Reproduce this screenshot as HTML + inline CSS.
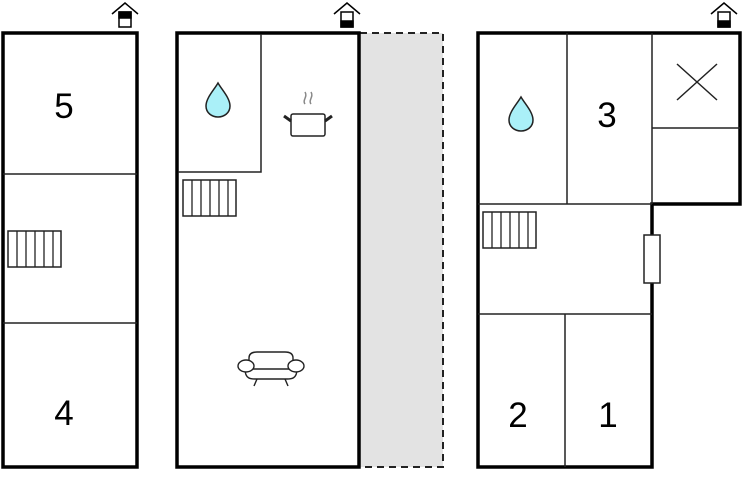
<!DOCTYPE html>
<html><head><style>body{margin:0;background:#fff}svg{display:block}</style></head><body>
<svg width="744" height="500" xmlns="http://www.w3.org/2000/svg" font-family="Liberation Sans, sans-serif">
<defs>
<g id="st"><rect x="0" y="0" width="53" height="36" fill="#fff" stroke="#222" stroke-width="1.5"/>
<path d="M9 0V36M18 0V36M27 0V36M36 0V36M45 0V36" stroke="#222" stroke-width="1.3"/></g>
<g id="drop"><path d="M0 -19 C4 -12 12 -4 12 4 C12 11 6 15 0 15 C-6 15 -12 11 -12 4 C-12 -4 -4 -12 0 -19Z" fill="#aaf0f8" stroke="#222" stroke-width="1.5"/></g>
</defs>
<rect x="360" y="33" width="83" height="434" fill="#e3e3e3"/>
<path d="M360 33H443V467H360" fill="none" stroke="#222" stroke-width="2" stroke-dasharray="7,5"/>
<rect x="3" y="33" width="134" height="434" fill="#fff" stroke="#000" stroke-width="3.5"/>
<path d="M3 174H137M3 323H137" stroke="#222" stroke-width="1.5"/>
<use href="#st" x="8" y="231"/>
<text x="64" y="118" font-size="35" text-anchor="middle">5</text>
<text x="64" y="425" font-size="35" text-anchor="middle">4</text>
<rect x="177" y="33" width="182" height="434" fill="#fff" stroke="#000" stroke-width="3.5"/>
<path d="M178 172H261V34" fill="none" stroke="#222" stroke-width="1.5"/>
<use href="#st" x="183" y="180"/>
<use href="#drop" x="218" y="102"/>
<g stroke="#222" stroke-width="1.5" fill="#fff">
<rect x="291" y="114" width="34" height="22" rx="2"/>
<path d="M291 121L284 116M325 121L332 116" stroke-width="3"/>
<path d="M305 104c-3-4 3-7 0-12M311 104c-3-4 3-7 0-12" stroke="#888" fill="none"/>
</g>
<g stroke="#222" stroke-width="1.4" fill="#fff">
<path d="M249 367v-9c0-5 4-6 8-6h28c4 0 8 1 8 6v9"/>
<path d="M245 369h52c0 10-6 10-10 10h-32c-4 0-10 0-10-10z"/>
<ellipse cx="246" cy="366" rx="8" ry="6"/><ellipse cx="296" cy="366" rx="8" ry="6"/>
<path d="M257 379l-3 7M285 379l3 7"/>
</g>
<path d="M478 33H740V204H652V467H478Z" fill="#fff" stroke="#000" stroke-width="3.5"/>
<path d="M567 33V204M652 33V204M652 128H740M478 204H652M478 314H652M565 314V467" stroke="#222" stroke-width="1.5"/>
<path d="M677 64L717 100M717 64L677 100" stroke="#222" stroke-width="1.5"/>
<rect x="644" y="235" width="16" height="48" fill="#fff" stroke="#222" stroke-width="1.5"/>
<use href="#st" x="483" y="212"/>
<use href="#drop" x="521" y="116"/>
<text x="607" y="127" font-size="35" text-anchor="middle">3</text>
<text x="518" y="427" font-size="35" text-anchor="middle">2</text>
<text x="608" y="427" font-size="35" text-anchor="middle">1</text>
<g stroke="#000" stroke-width="1.5" fill="none">
<path d="M112 14L125 3L138 14"/><rect x="119" y="12" width="12" height="15" fill="#fff"/><rect x="119" y="12" width="12" height="6" fill="#000"/>
<path d="M334 14L347 3L360 14"/><rect x="341" y="12" width="12" height="15" fill="#fff"/><rect x="341" y="21" width="12" height="6" fill="#000"/>
<path d="M711 14L724 3L737 14"/><rect x="718" y="12" width="12" height="15" fill="#fff"/><rect x="718" y="21" width="12" height="6" fill="#000"/>
</g>
</svg>
</body></html>
